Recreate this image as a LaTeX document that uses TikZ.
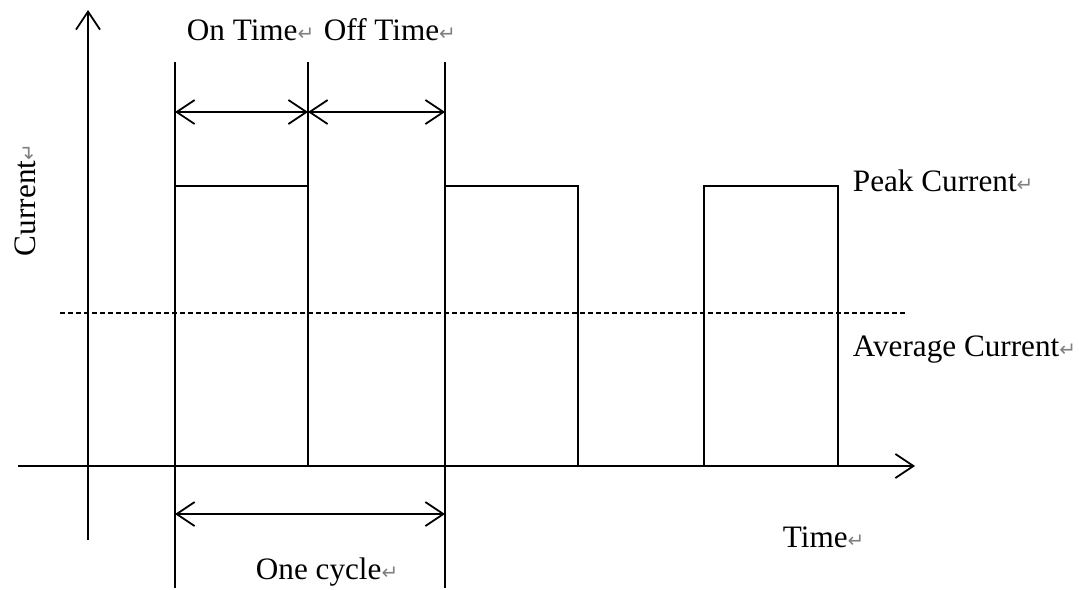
\documentclass[tikz,border=0pt]{standalone}
\usepackage{fontspec}
\setmainfont{Liberation Serif}
\newfontfamily\retfont{DejaVu Sans}
\usetikzlibrary{arrows.meta}
\newcommand{\ret}{{\retfont\color{gray}\fontsize{10}{10}\selectfont ↵}}

\begin{document}
\begin{tikzpicture}[
    x=0.5pt, y=-0.5pt,
    font=\fontsize{15.6}{19}\selectfont,
    line width=0.9pt,
    axis/.style={-{Straight Barb[length=9pt, width=12pt, line width=0.9pt]}},
    span/.style={{Straight Barb[length=9pt, width=12pt, line width=0.9pt]}-{Straight Barb[length=9pt, width=12pt, line width=0.9pt]}},
    avg/.style={dashed, line width=0.6pt, dash pattern=on 2.5pt off 1.5pt},
    lbl/.style={anchor=west, inner sep=0pt}
  ]
  \useasboundingbox (0,0) rectangle (1079,589);

  % axes
  \coordinate (yfoot) at (88,540);
  \coordinate (ytip)  at (88,10);
  \coordinate (xfoot) at (18,466);
  \coordinate (xtip)  at (915,466);
  \draw[axis] (yfoot) -- (ytip);
  \draw[axis] (xfoot) -- (xtip);

  % pulse train
  \draw (175,466) -- (175,186) -- (308,186) -- (308,466);
  \draw (445,466) -- (445,186) -- (578,186) -- (578,466);
  \draw (704,466) -- (704,186) -- (838,186) -- (838,466);

  % extension lines
  \coordinate (onA)  at (175,62);
  \coordinate (onB)  at (308,62);
  \coordinate (offB) at (445,62);
  \draw (onA)  -- (175,588);
  \draw (onB)  -- (308,186);
  \draw (offB) -- (445,588);

  % average level
  \draw[avg] (60,313) -- (905,313);

  % dimension arrows
  \coordinate (d1) at (175,112);
  \coordinate (d2) at (308,112);
  \coordinate (d3) at (445,112);
  \coordinate (c1) at (175,514);
  \coordinate (c2) at (445,514);
  \draw[span] (d1) -- (d2);
  \draw[span] (d2) -- (d3);
  \draw[span] (c1) -- (c2);

  % labels
  \node[lbl] (ontime)  at (186,30)  {On Time\ret};
  \node[lbl] (offtime) at (323,30)  {Off Time\ret};
  \node[lbl] (peak)    at (852,181) {Peak Current\ret};
  \node[lbl] (average) at (852,350) {Average Current\ret};
  \node[lbl] (time)    at (782,537) {Time\ret};
  \node[lbl] (cycle)   at (255,572) {One cycle\ret};
  \node[inner sep=0pt, rotate=90] (current) at (25,200) {Current\ret};

\end{tikzpicture}
\end{document}
